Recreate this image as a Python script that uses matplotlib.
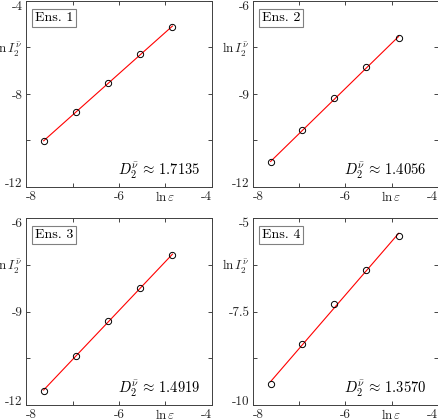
import matplotlib
matplotlib.use("Agg")
import matplotlib.pyplot as plt
import numpy as np

plt.rcParams['font.family'] = 'serif'
plt.rcParams['font.serif'] = ['cmr10', 'DejaVu Serif']
plt.rcParams['mathtext.fontset'] = 'cm'
plt.rcParams['axes.unicode_minus'] = False

# ln(epsilon) values, shared by all four ensembles
ln_eps = [-7.62, -6.93, -6.24, -5.55, -4.85]

# ln I_2 values
ens1 = [-10.04, -8.77, -7.53, -6.30, -5.11]
ens2 = [-11.20, -10.17, -9.14, -8.13, -7.18]
ens3 = [-11.55, -10.42, -9.32, -8.23, -7.20]
ens4 = [-9.45, -8.36, -7.30, -6.39, -5.48]

names = ["Ens. 1", "Ens. 2", "Ens. 3", "Ens. 4"]
dims = ["1.7135", "1.4056", "1.4919", "1.3570"]

x_ticks = [-8, -7, -6, -5, -4]
y_ticks = [
    [-12, -10, -8, -6, -4],
    [-12, -10.5, -9, -7.5, -6],
    [-12, -10.5, -9, -7.5, -6],
    [-10, -8.75, -7.5, -6.25, -5],
]
y_ticklabels = [
    ["-12", "", "-8", None, "-4"],
    ["-12", "", "-9", None, "-6"],
    ["-12", "", "-9", None, "-6"],
    ["-10", "", "-7.5", None, "-5"],
]

XLAB = r"$\ln\varepsilon$"
YLAB = r"$\ln I_2^{\bar{\nu}}$"
FS = 9.5

fig = plt.figure(figsize=(4.39, 4.19), dpi=100)
W, H = 439, 419
boxes = [(26, 1, 212, 187), (253, 1, 438, 187),
         (26, 218, 212, 405), (253, 218, 438, 405)]

for k, ys in enumerate([ens1, ens2, ens3, ens4]):
    l, t, r, b = boxes[k]
    ax = fig.add_axes([l / W, 1 - b / H, (r - l) / W, (b - t) / H])

    x = np.array(ln_eps)
    y = np.array(ys)
    p = np.polyfit(x, y, 1)
    ax.plot(x, np.polyval(p, x), color='red', lw=0.8, zorder=2)
    ax.plot(x, y, 'o', mfc='none', mec='black', ms=4.5, mew=0.7, zorder=3)

    ax.set_xlim(-8, -4)
    ax.set_ylim(y_ticks[k][0], y_ticks[k][-1])

    ax.set_xticks(x_ticks)
    ax.set_xticklabels(["-8", "", "-6", XLAB, "-4"], fontsize=FS)
    ax.set_yticks(y_ticks[k])
    ax.set_yticklabels([YLAB if s is None else s for s in y_ticklabels[k]], fontsize=FS)

    xl = ax.get_xticklabels()
    xl[0].set_ha('left')
    xl[-1].set_ha('right')
    yl = ax.get_yticklabels()
    yl[0].set_va('baseline')
    yl[-1].set_va('top')

    ax.tick_params(direction='in', length=3, width=0.6, top=True, right=True,
                   pad=2.5, colors='#262626')
    for s in ax.spines.values():
        s.set_linewidth(0.7)
        s.set_color('#404040')

    ax.text(0.048, 0.94, names[k], transform=ax.transAxes, fontsize=10,
            ha='left', va='top',
            bbox=dict(boxstyle='square,pad=0.22', fc='white', ec='#808080', lw=0.8))
    ax.text(0.94, 0.065, r"$D_2^{\bar{\nu}}\,\approx\," + dims[k] + "$",
            transform=ax.transAxes, fontsize=10.5, ha='right', va='baseline')

fig.savefig("out.png", dpi=100)
